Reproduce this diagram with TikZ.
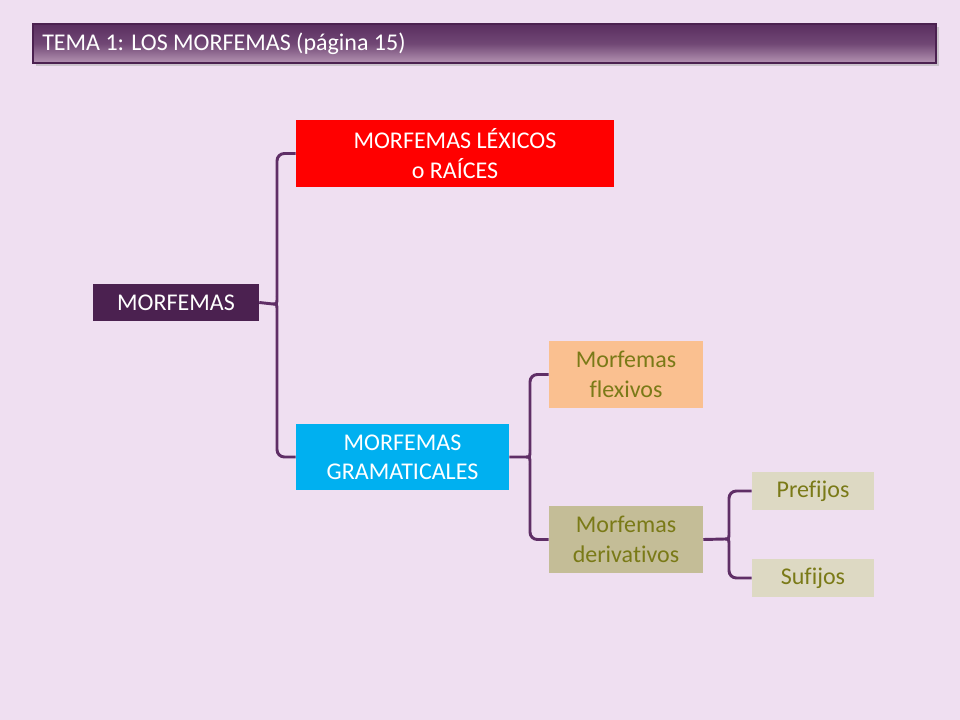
\documentclass[tikz,border=0pt]{standalone}
\usepackage{fontspec}
\setmainfont[Ligatures={NoCommon}]{Carlito}
\usetikzlibrary{calc,shadows}
\definecolor{bgc}{HTML}{EFDFF1}
\definecolor{darkp}{HTML}{4B2150}
\definecolor{brc}{HTML}{5F2E66}
\definecolor{cyanb}{HTML}{00B0F0}
\definecolor{orangeb}{HTML}{FAC090}
\definecolor{tanb}{HTML}{C4BD97}
\definecolor{tanl}{HTML}{DDD9C3}
\definecolor{olivet}{HTML}{7A7A17}
\definecolor{ttop}{HTML}{5A2E60}
\definecolor{tbot}{HTML}{B493B2}
\tikzset{
  box/.style={inner sep=0pt, align=center, font=\fontsize{18}{22}\selectfont},
  br/.style={draw=brc, line width=2.2pt, rounded corners=5.5pt},
  brs/.style={draw=brc, line width=2.2pt}
}
\begin{document}
\begin{tikzpicture}[x=0.75pt,y=-0.75pt]
\useasboundingbox (0,0) rectangle (960,720);
\fill[bgc] (0,0) rectangle (960,720);
% title bar
\fill[black!35,opacity=0.5] (36,27) rectangle (939,66);
\shade[top color=ttop, bottom color=tbot, middle color=ttop!75!tbot] (33,24) rectangle (936,63);
\draw[darkp,line width=0.8pt] (33,24) rectangle (936,63);
\node[anchor=west,text=white,font=\fontsize{18}{22}\selectfont,inner sep=0pt] (title) at (42,44) {TEMA 1: LOS MORFEMAS (página 15)};
% nodes
\node[box,fill=darkp,text=white,minimum width=166*0.75pt,minimum height=37*0.75pt] (m) at (176,302.5) {MORFEMAS};
\node[box,fill=red,text=white,minimum width=318*0.75pt,minimum height=67*0.75pt] (lex) at (455,153.5) {MORFEMAS LÉXICOS\\o RAÍCES};
\node[box,fill=cyanb,text=white,minimum width=213*0.75pt,minimum height=66*0.75pt] (gra) at (402.5,457) {MORFEMAS\\GRAMATICALES};
\node[box,fill=orangeb,text=olivet,minimum width=154*0.75pt,minimum height=67*0.75pt] (flex) at (626,374.5) {Morfemas\\flexivos};
\node[box,fill=tanb,text=olivet,minimum width=154*0.75pt,minimum height=67*0.75pt] (der) at (626,539.5) {Morfemas\\derivativos};
\node[box,fill=tanl,text=olivet,minimum width=122*0.75pt,minimum height=38*0.75pt] (pre) at (813,491) {Prefijos};
\node[box,fill=tanl,text=olivet,minimum width=122*0.75pt,minimum height=38*0.75pt] (suf) at (813,578) {Sufijos};
% brace coordinates
\coordinate (c1) at (277,304);
\coordinate (c2) at (530,457);
\coordinate (c3) at (729,539);
% brace 1
\draw[br] (lex.west) -| ($(c1)+(0,-7)$);
\draw[br] (gra.west) -| ($(c1)+(0,7)$);
\draw[brs] (m.east) -- ($(c1)+(-4,0)$) .. controls (c1) .. ($(c1)+(0,-7)$);
\draw[brs] ($(c1)+(-4,0)$) .. controls (c1) .. ($(c1)+(0,7)$);
% brace 2
\draw[br] (flex.west) -| ($(c2)+(0,-7)$);
\draw[br] (der.west) -| ($(c2)+(0,7)$);
\draw[brs] (gra.east) -- ($(c2)+(-4,0)$) .. controls (c2) .. ($(c2)+(0,-7)$);
\draw[brs] ($(c2)+(-4,0)$) .. controls (c2) .. ($(c2)+(0,7)$);
% brace 3
\draw[br] (pre.west) -| ($(c3)+(0,-7)$);
\draw[br] (suf.west) -| ($(c3)+(0,7)$);
\draw[brs] (der.east) -- ($(c3)+(-4,0)$) .. controls (c3) .. ($(c3)+(0,-7)$);
\draw[brs] ($(c3)+(-4,0)$) .. controls (c3) .. ($(c3)+(0,7)$);
\end{tikzpicture}
\end{document}
